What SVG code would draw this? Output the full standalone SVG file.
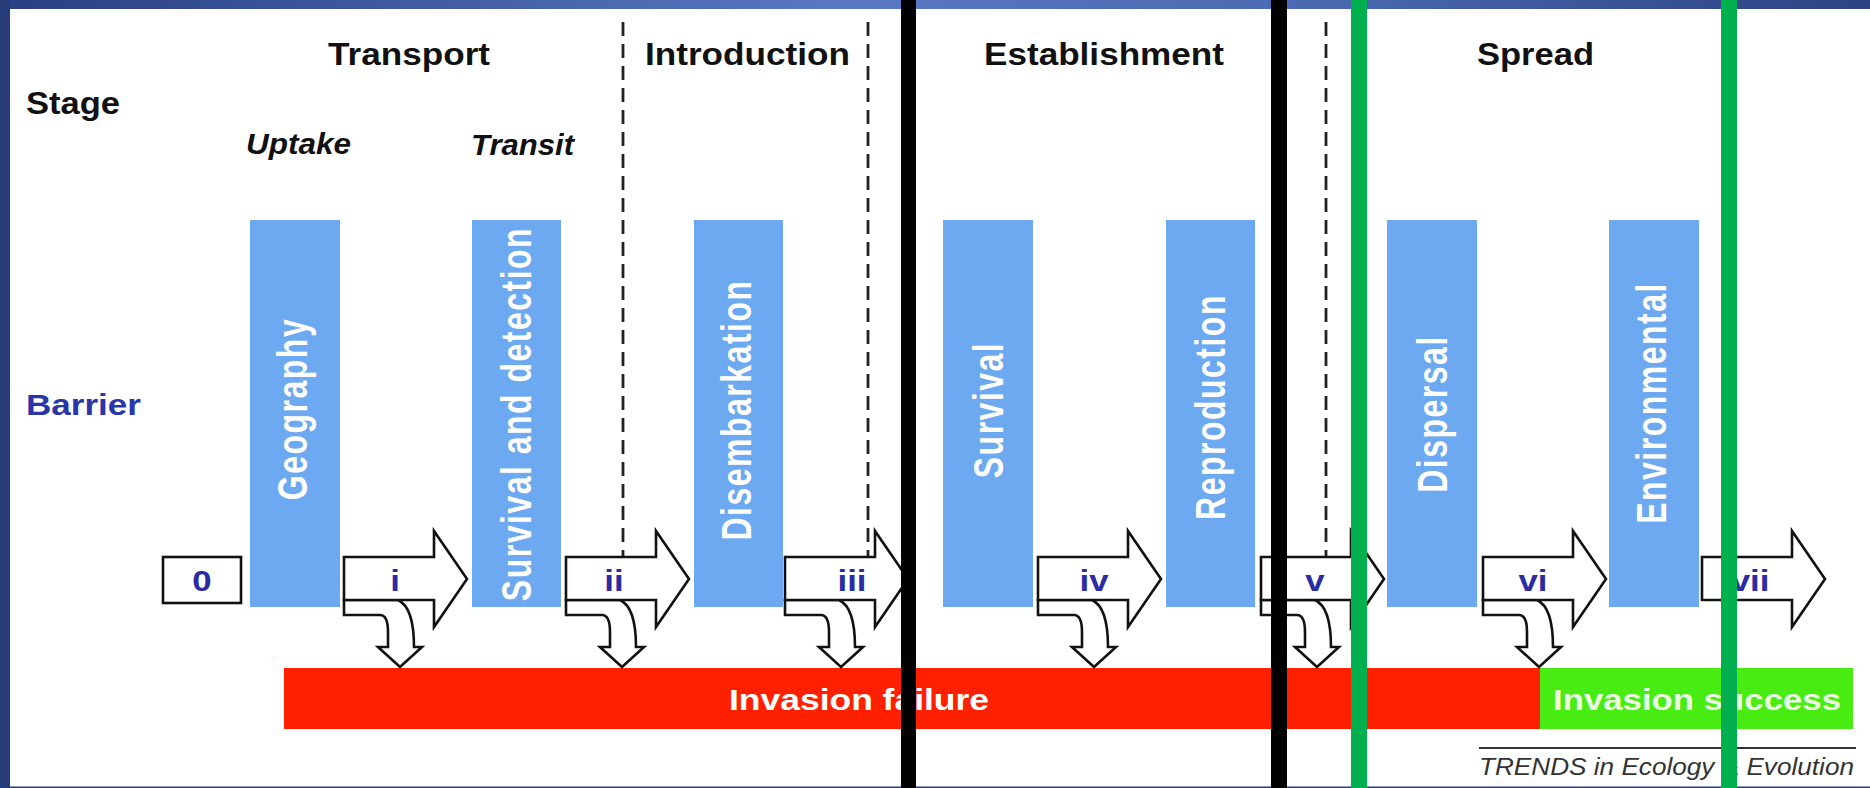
<svg xmlns="http://www.w3.org/2000/svg" width="1870" height="788" viewBox="0 0 1870 788">
<defs>
<linearGradient id="band" x1="0" y1="0" x2="1" y2="0">
<stop offset="0" stop-color="#2a3f82"/>
<stop offset="0.45" stop-color="#5878c4"/>
<stop offset="0.7" stop-color="#4b69b2"/>
<stop offset="1" stop-color="#2c4282"/>
</linearGradient>
<style>
.hd{font-family:"Liberation Sans",Arial,sans-serif;font-weight:bold;font-size:31px;fill:#111}
.it{font-family:"Liberation Sans",Arial,sans-serif;font-weight:bold;font-style:italic;font-size:29px;fill:#111}
.bar{fill:#6ca9f0}
.bt{font-family:"Liberation Sans",Arial,sans-serif;font-weight:bold;font-size:32px;letter-spacing:1.5px;fill:#fff;text-anchor:middle}
.lb{font-family:"Liberation Sans",Arial,sans-serif;font-weight:bold;font-size:29px;fill:#2b2ba3;text-anchor:middle}
.arr{fill:#fff;stroke:#111;stroke-width:2.6;stroke-linejoin:miter}
.dash{stroke:#222;stroke-width:2.8;stroke-dasharray:14 8;fill:none}
.inv{font-family:"Liberation Sans",Arial,sans-serif;font-weight:bold;font-size:30px;text-anchor:middle}
</style>
</defs>
<rect x="0" y="0" width="1870" height="788" fill="#fff"/>
<rect x="0" y="0" width="1870" height="9" fill="url(#band)"/>
<rect x="0" y="0" width="10" height="788" fill="#263d7a"/>
<rect x="0" y="786.5" width="1870" height="1.5" fill="#263d7a"/>

<g id="headers">
<text class="hd" x="26" y="114" textLength="94" lengthAdjust="spacingAndGlyphs">Stage</text>
<text class="hd" x="328" y="65" textLength="162" lengthAdjust="spacingAndGlyphs">Transport</text>
<text class="hd" x="645" y="65" textLength="205" lengthAdjust="spacingAndGlyphs">Introduction</text>
<text class="hd" x="984" y="65" textLength="240" lengthAdjust="spacingAndGlyphs">Establishment</text>
<text class="hd" x="1477" y="65" textLength="117" lengthAdjust="spacingAndGlyphs">Spread</text>
<text class="it" x="246" y="154" textLength="105" lengthAdjust="spacingAndGlyphs">Uptake</text>
<text class="it" x="471" y="155" textLength="103" lengthAdjust="spacingAndGlyphs">Transit</text>
<text class="hd" x="26" y="415" textLength="115" lengthAdjust="spacingAndGlyphs" style="fill:#2a35aa;font-size:30px">Barrier</text>
</g>

<g id="stage-dividers">
<line class="dash" x1="623" y1="22" x2="623" y2="557"/>
<line class="dash" x1="868" y1="22" x2="868" y2="557"/>
<line class="dash" x1="1326" y1="22" x2="1326" y2="557"/>
</g>

<g id="barrier-geography"><rect class="bar" x="250" y="220" width="90" height="387"/><text class="bt" transform="translate(307,409) scale(1.35,1) rotate(-90)">Geography</text></g>
<g id="barrier-survival-detection"><rect class="bar" x="472" y="220" width="89" height="387"/><text class="bt" transform="translate(531,414) scale(1.35,1) rotate(-90)">Survival and detection</text></g>
<g id="barrier-disembarkation"><rect class="bar" x="694" y="220" width="89" height="387"/><text class="bt" transform="translate(751,410) scale(1.35,1) rotate(-90)">Disembarkation</text></g>
<g id="barrier-survival"><rect class="bar" x="943" y="220" width="90" height="387"/><text class="bt" transform="translate(1003,410) scale(1.35,1) rotate(-90)">Survival</text></g>
<g id="barrier-reproduction"><rect class="bar" x="1166" y="220" width="89" height="387"/><text class="bt" transform="translate(1225,407) scale(1.35,1) rotate(-90)">Reproduction</text></g>
<g id="barrier-dispersal"><rect class="bar" x="1387" y="220" width="90" height="387"/><text class="bt" transform="translate(1447,414) scale(1.35,1) rotate(-90)">Dispersal</text></g>
<g id="barrier-environmental"><rect class="bar" x="1609" y="220" width="90" height="387"/><text class="bt" transform="translate(1666,403) scale(1.35,1) rotate(-90)">Environmental</text></g>

<g id="outcomes">
<rect x="284" y="668" width="1256" height="61" fill="#ff2000"/>
<rect x="1540" y="668" width="313" height="61" fill="#48ec12"/>
<text class="inv" x="859" y="710" textLength="260" lengthAdjust="spacingAndGlyphs" fill="#fff">Invasion failure</text>
<text class="inv" x="1697" y="710" textLength="288" lengthAdjust="spacingAndGlyphs" fill="#eaffe2">Invasion success</text>
</g>

<g id="connectors">
<g id="box-0"><rect x="163" y="557" width="78" height="46" fill="#fff" stroke="#111" stroke-width="2.6"/><text class="lb" transform="translate(202,591) scale(1.2,1)">0</text></g>
<g id="arrow-i" transform="translate(344,0)">
<path class="arr" d="M0,600 V615 H36 C41,615 44,620 44,632 V647 H34 L56,667 L78,647 H70 C70,622 65,605 54,600 Z"/>
<path class="arr" d="M0,557 H90 V531 L123,579 L90,627 V600 H0 Z"/>
</g>
<text class="lb" transform="translate(395,591) scale(1.2,1)">i</text>
<g id="arrow-ii" transform="translate(566,0)">
<path class="arr" d="M0,600 V615 H36 C41,615 44,620 44,632 V647 H34 L56,667 L78,647 H70 C70,622 65,605 54,600 Z"/>
<path class="arr" d="M0,557 H90 V531 L123,579 L90,627 V600 H0 Z"/>
</g>
<text class="lb" transform="translate(614,591) scale(1.2,1)">ii</text>
<g id="arrow-iii" transform="translate(785,0)">
<path class="arr" d="M0,600 V615 H36 C41,615 44,620 44,632 V647 H34 L56,667 L78,647 H70 C70,622 65,605 54,600 Z"/>
<path class="arr" d="M0,557 H90 V531 L123,579 L90,627 V600 H0 Z"/>
</g>
<text class="lb" transform="translate(852,591) scale(1.2,1)">iii</text>
<g id="arrow-iv" transform="translate(1038,0)">
<path class="arr" d="M0,600 V615 H36 C41,615 44,620 44,632 V647 H34 L56,667 L78,647 H70 C70,622 65,605 54,600 Z"/>
<path class="arr" d="M0,557 H90 V531 L123,579 L90,627 V600 H0 Z"/>
</g>
<text class="lb" transform="translate(1094,591) scale(1.2,1)">iv</text>
<g id="arrow-v" transform="translate(1261,0)">
<path class="arr" d="M0,600 V615 H36 C41,615 44,620 44,632 V647 H34 L56,667 L78,647 H70 C70,622 65,605 54,600 Z"/>
<path class="arr" d="M0,557 H90 V531 L123,579 L90,627 V600 H0 Z"/>
</g>
<text class="lb" transform="translate(1315,591) scale(1.2,1)">v</text>
<g id="arrow-vi" transform="translate(1483,0)">
<path class="arr" d="M0,600 V615 H36 C41,615 44,620 44,632 V647 H34 L56,667 L78,647 H70 C70,622 65,605 54,600 Z"/>
<path class="arr" d="M0,557 H90 V531 L123,579 L90,627 V600 H0 Z"/>
</g>
<text class="lb" transform="translate(1533,591) scale(1.2,1)">vi</text>
<g id="arrow-vii" transform="translate(1702,0)">
<path class="arr" d="M0,557 H90 V531 L123,579 L90,627 V600 H0 Z"/>
</g>
<text class="lb" transform="translate(1750,591) scale(1.2,1)">vii</text>
</g>

<g id="footer">
<line x1="1479" y1="748" x2="1856" y2="748" stroke="#333" stroke-width="1.8"/>
<text x="1479" y="775" textLength="375" lengthAdjust="spacingAndGlyphs" style="font-family:'Liberation Sans',Arial,sans-serif;font-style:italic;font-size:23px;fill:#333">TRENDS in Ecology &amp; Evolution</text>
</g>

<g id="overlay-lines">
<rect x="901" y="0" width="15" height="788" fill="#000"/>
<rect x="1271" y="0" width="16" height="788" fill="#000"/>
<rect x="1351" y="0" width="16" height="788" fill="#00b04f"/>
<rect x="1721" y="0" width="16" height="788" fill="#00b04f"/>
</g>
</svg>
